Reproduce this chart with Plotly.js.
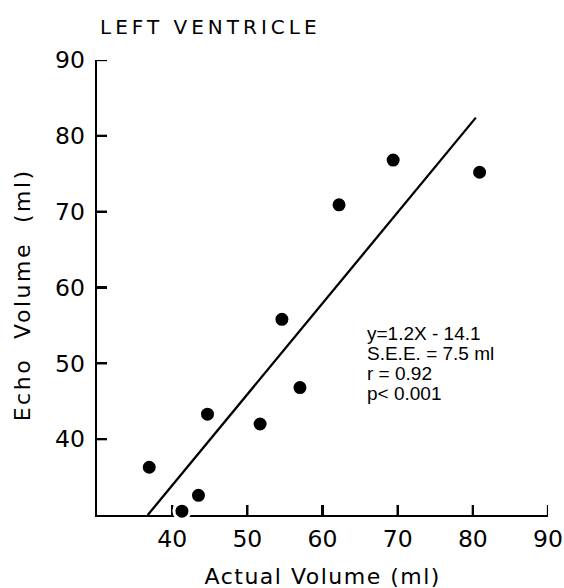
<!DOCTYPE html>
<html>
<head>
<meta charset="utf-8">
<script src="https://cdn.plot.ly/plotly-3.0.1.min.js"></script>
<style>
html,body{margin:0;padding:0;background:#fff;}
#chart{width:564px;height:588px;}
.annotation[data-index="0"] .annotation-text{letter-spacing:4px;}
.annotation[data-index="1"] .annotation-text{letter-spacing:1.5px;}
.annotation[data-index="2"] .annotation-text{letter-spacing:2.5px;}
</style>
</head>
<body>
<div id="chart"></div>
<script>
// Data
const actualVolume = [36.95, 41.3, 43.5, 44.7, 51.7, 54.6, 57.0, 62.2, 69.4, 80.9];
const echoVolume   = [36.3, 30.5, 32.6, 43.3, 42.0, 55.8, 46.8, 70.9, 76.8, 75.2];
const fitX = [36.75, 80.4];
const fitY = [30.0, 82.4];
const tickVals = [40, 50, 60, 70, 80, 90];
const tickText = ["40", "50", "60", "70", "80", "90"];
const statsLines = ["y=1.2X - 14.1", "S.E.E. = 7.5 ml", "r = 0.92", "p< 0.001"];
const chartTitle = "LEFT VENTRICLE";
const xTitle = "Actual Volume (ml)";
const yTitle = "Echo  Volume  (ml)";

const sans = "DejaVu Sans, sans-serif";
const statFont = "Liberation Sans, Arial, sans-serif";
const TICK_LEN = 10, TICK_W = 2.3;

const traces = [
  {
    x: fitX, y: fitY, mode: "lines", type: "scatter",
    line: {color: "#000", width: 2.3}, hoverinfo: "skip", cliponaxis: false
  },
  {
    x: actualVolume, y: echoVolume, mode: "markers", type: "scatter",
    marker: {color: "#000", size: 16, line: {color: "#fff", width: 3}},
    cliponaxis: false
  }
];

const axisCommon = {
  range: [30, 90], tickvals: tickVals, ticktext: tickText,
  showgrid: false, zeroline: false, showline: true, linecolor: "#000", linewidth: 2.3,
  ticks: "inside", ticklen: TICK_LEN, tickwidth: TICK_W, tickcolor: "#000",
  tickfont: {size: 23.5, family: sans, color: "#000"}, layer: "below traces"
};

// inside tick marks, placed through the axes' own scales at the tick values
const shapes = [];
tickVals.forEach(v => {
  shapes.push({
    type: "line", layer: "below", xref: "x", yref: "paper", ysizemode: "pixel", yanchor: 0,
    x0: v, x1: v, y0: 0, y1: TICK_LEN, line: {color: "#000", width: TICK_W}
  });
  shapes.push({
    type: "line", layer: "below", yref: "y", xref: "paper", xsizemode: "pixel", xanchor: 0,
    y0: v, y1: v, x0: 0, x1: TICK_LEN, line: {color: "#000", width: TICK_W}
  });
});

const annotations = [
  {
    xref: "paper", yref: "paper", x: 0, y: 1, xshift: 29, yshift: 33,
    xanchor: "left", yanchor: "middle", showarrow: false,
    text: chartTitle, font: {size: 20, family: sans, color: "#000"}
  },
  {
    xref: "paper", yref: "paper", x: 0.5, y: 0, yshift: -61,
    xanchor: "center", yanchor: "middle", showarrow: false,
    text: xTitle, font: {size: 22, family: sans, color: "#000"}
  },
  {
    xref: "paper", yref: "paper", x: 0, y: 0.484, xshift: -74,
    xanchor: "center", yanchor: "middle", showarrow: false, textangle: -90,
    text: yTitle, font: {size: 22, family: sans, color: "#000"}
  }
];
statsLines.forEach((s, i) => {
  annotations.push({
    xref: "x", yref: "y", x: 65.6, y: 54.0, yshift: -20.2 * i,
    xanchor: "left", yanchor: "middle", showarrow: false, align: "left",
    text: s, font: {size: 19, family: statFont, color: "#000"}
  });
});

const layout = {
  width: 564, height: 588,
  margin: {l: 97, r: 16, t: 60, b: 73},
  paper_bgcolor: "#fff", plot_bgcolor: "rgba(0,0,0,0)",
  showlegend: false,
  font: {family: sans, color: "#000"},
  xaxis: Object.assign({}, axisCommon, {ticklabelstandoff: 1}),
  yaxis: Object.assign({}, axisCommon, {ticklabelstandoff: 5}),
  shapes: shapes,
  annotations: annotations
};

Plotly.newPlot("chart", traces, layout, {staticPlot: true});
</script>
</body>
</html>
